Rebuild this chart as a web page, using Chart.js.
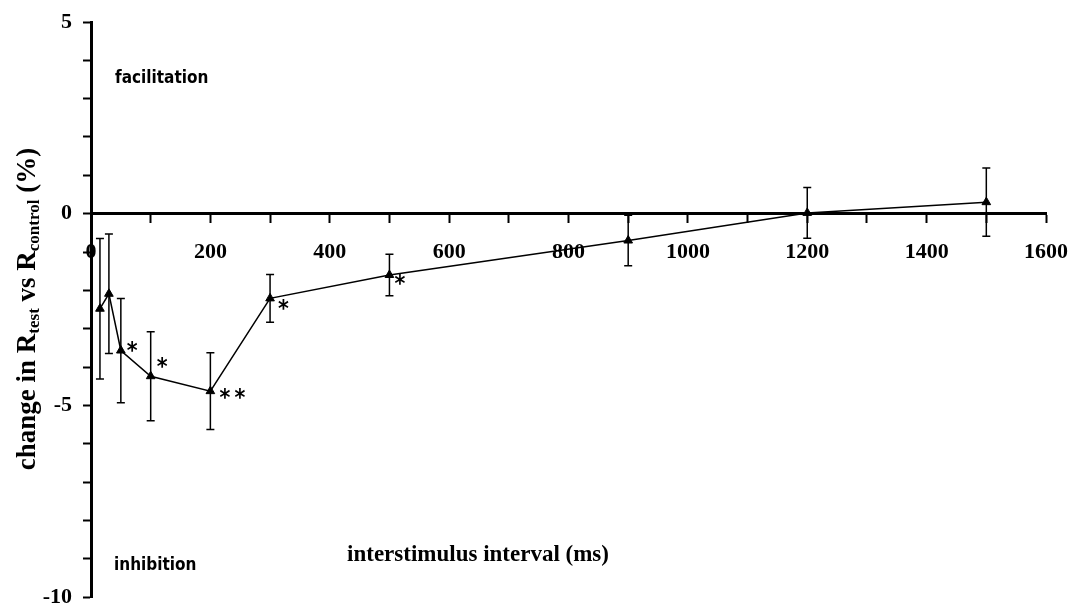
<!DOCTYPE html>
<html>
<head>
<meta charset="utf-8">
<script src="https://cdn.jsdelivr.net/npm/chart.js@4"></script>
<style>
  html, body { margin: 0; padding: 0; background: #fff; }
  #wrap { width: 1072px; height: 604px; }
</style>
</head>
<body>
<div id="wrap"><canvas id="chart"></canvas></div>
<script>
// interstimulus intervals (ms) and mean change (%) with error bar size
var intervals = [15, 30, 50, 100, 200, 300, 500, 900, 1200, 1500];
var changes = [-2.48, -2.09, -3.57, -4.24, -4.63, -2.21, -1.60, -0.70, 0.02, 0.30];
var errors = [1.83, 1.56, 1.36, 1.16, 1.0, 0.62, 0.54, 0.66, 0.66, 0.89];
var signif = ['', '', '*', '*', '**', '*', '*', '', '', ''];

var xTicks = [0, 200, 400, 600, 800, 1000, 1200, 1400, 1600];
var yTicks = [5, 0, -5, -10];

var serif = '"Liberation Serif", "Times New Roman", serif';
var narrow = '"DejaVu Sans Condensed", "DejaVu Sans", sans-serif';

var points = intervals.map((x, i) => ({ x: x, y: changes[i] }));

// star nudges (px) so they sit clear of the line
var starDx = [0, 0, 6, 6, 9, 8, 5, 0, 0, 0];
var starDy = [0, 0, -2, -12, 4, 8, 6, 0, 0, 0];

// vertical error bars with small caps
var errorBars = {
	id: 'errorBars',
	afterDatasetsDraw(chart) {
		var ctx = chart.ctx;
		var xs = chart.scales.x;
		var ys = chart.scales.y;
		ctx.save();
		ctx.strokeStyle = '#000';
		ctx.lineWidth = 1.5;
		intervals.forEach((x, i) => {
			var px = xs.getPixelForValue(x);
			var top = ys.getPixelForValue(changes[i] + errors[i]);
			var bot = ys.getPixelForValue(changes[i] - errors[i]);
			ctx.beginPath();
			ctx.moveTo(px, top);
			ctx.lineTo(px, bot);
			ctx.moveTo(px - 4, top);
			ctx.lineTo(px + 4, top);
			ctx.moveTo(px - 4, bot);
			ctx.lineTo(px + 4, bot);
			ctx.stroke();
		});
		ctx.restore();
	}
};

// titles, region notes and significance stars
var notes = {
	id: 'notes',
	afterDraw(chart) {
		var ctx = chart.ctx;
		var xs = chart.scales.x;
		var ys = chart.scales.y;
		ctx.save();
		ctx.fillStyle = '#000';

		ctx.font = 'bold 23px ' + narrow;
		ctx.textAlign = 'left';
		ctx.textBaseline = 'middle';
		intervals.forEach((x, i) => {
			if (!signif[i]) return;
			var px = xs.getPixelForValue(x) + starDx[i];
			var py = ys.getPixelForValue(changes[i]) + starDy[i];
			var s = signif[i];
			for (var k = 0; k < s.length; k++) {
				ctx.fillText('*', px + k * 15, py + 4);
			}
		});

		ctx.font = 'bold 17px ' + narrow;
		ctx.textBaseline = 'middle';
		ctx.fillText('facilitation', 115, 79);
		ctx.fillText('inhibition', 114, 566);

		ctx.font = 'bold 23px ' + serif;
		ctx.textAlign = 'center';
		ctx.fillText('interstimulus interval (ms)', 478, 555);

		// rotated y title with subscripts
		var parts = [
			['change in R', 27, 0],
			['test', 17, 4],
			[' vs R', 27, 0],
			['control', 17, 4],
			[' (%)', 27, 0]
		];
		var total = 0;
		parts.forEach(p => {
			ctx.font = 'bold ' + p[1] + 'px ' + serif;
			total += ctx.measureText(p[0]).width;
		});
		ctx.translate(35, 309);
		ctx.rotate(-Math.PI / 2);
		ctx.textAlign = 'left';
		ctx.textBaseline = 'alphabetic';
		var u = -total / 2;
		parts.forEach(p => {
			ctx.font = 'bold ' + p[1] + 'px ' + serif;
			ctx.fillText(p[0], u, p[2]);
			u += ctx.measureText(p[0]).width;
		});
		ctx.restore();
	}
};

var config = {
	type: 'line',
	data: {
		datasets: [
			{
				label: 'change',
				data: points,
				borderColor: '#000',
				borderWidth: 1.5,
				backgroundColor: '#000',
				pointStyle: 'triangle',
				pointRadius: 5,
				pointBorderWidth: 1,
				tension: 0
			}
		]
	},
	options: {
		responsive: true,
		maintainAspectRatio: false,
		animation: false,
		layout: {
			padding: { left: 0, right: 26, top: 22, bottom: 7 }
		},
		plugins: {
			legend: { display: false },
			tooltip: { enabled: false }
		},
		scales: {
			x: {
				type: 'linear',
				position: { y: 0 },
				min: 0,
				max: 1600,
				border: { display: true, color: '#000', width: 3 },
				grid: {
					drawOnChartArea: false,
					drawTicks: true,
					tickLength: 8,
					tickWidth: 2,
					tickColor: '#000'
				},
				ticks: {
					stepSize: 100,
					autoSkip: false,
					maxRotation: 0,
					padding: 17,
					color: '#000',
					font: { family: serif, size: 22, weight: 'bold' },
					callback: (v) => xTicks.includes(v) ? String(v) : ''
				},
				afterFit: (scale) => {
					scale.paddingLeft = 0;
					scale.paddingRight = 0;
				}
			},
			y: {
				type: 'linear',
				min: -10,
				max: 5,
				border: { display: true, color: '#000', width: 3 },
				grid: {
					drawOnChartArea: false,
					drawTicks: true,
					tickLength: 8,
					tickWidth: 2,
					tickColor: '#000'
				},
				ticks: {
					stepSize: 1,
					autoSkip: false,
					padding: 11,
					color: '#000',
					font: { family: serif, size: 22, weight: 'bold' },
					callback: (v) => yTicks.includes(v) ? String(v) : ''
				},
				afterFit: (scale) => {
					scale.width = 91;
					scale.paddingTop = 0;
					scale.paddingBottom = 0;
				}
			}
		}
	},
	plugins: [errorBars, notes]
};

var bieuDo = new Chart(document.getElementById('chart').getContext('2d'), config);
</script>
</body>
</html>
